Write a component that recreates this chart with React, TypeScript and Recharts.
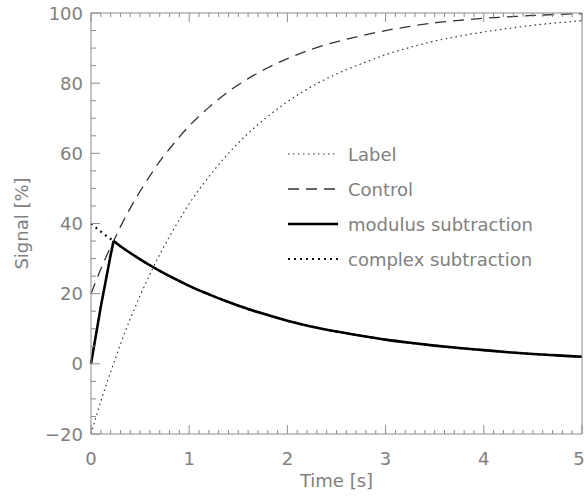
import { LineChart, Line, XAxis, YAxis, Legend } from 'recharts'

// time axis in seconds
const TIME = [
  0, 0.1, 0.2, 0.23, 0.3, 0.4, 0.5, 0.6, 0.7, 0.8, 0.9, 1.0, 1.2, 1.4, 1.6, 1.8, 2.0,
  2.25, 2.5, 2.75, 3.0, 3.25, 3.5, 3.75, 4.0, 4.25, 4.5, 4.75, 5.0,
]

const LABEL = [
  -20, -10.7, -2.3, 0, 5.6, 12.8, 19.4, 25.5, 31.2, 36.3, 41.1, 45.6, 53.3, 60.0, 65.7, 70.5,
  74.7, 79.1, 82.6, 85.5, 88.1, 90.2, 92.0, 93.4, 94.6, 95.6, 96.5, 97.2, 97.8,
]

const CONTROL = [
  20, 27.0, 33.3, 35.0, 39.1, 44.4, 49.2, 53.6, 57.7, 61.3, 64.7, 67.8, 73.1, 77.6, 81.3, 84.4,
  87.0, 89.7, 91.8, 93.5, 95.0, 96.2, 97.2, 97.9, 98.5, 98.9, 99.3, 99.6, 99.8,
]

const MODULUS = [
  0, 16.3, 31.0, 35.0, 33.5, 31.6, 29.8, 28.1, 26.5, 25.0, 23.6, 22.2, 19.8, 17.6, 15.6, 13.9,
  12.3, 10.6, 9.2, 8.0, 6.9, 6.0, 5.2, 4.5, 3.9, 3.3, 2.8, 2.4, 2.0,
]

const COMPLEX = [
  40, 37.7, 35.6, 35.0, 33.5, 31.6, 29.8, 28.1, 26.5, 25.0, 23.6, 22.2, 19.8, 17.6, 15.6, 13.9,
  12.3, 10.6, 9.2, 8.0, 6.9, 6.0, 5.2, 4.5, 3.9, 3.3, 2.8, 2.4, 2.0,
]

const PEAK_TIME = 0.23

const X_MAJOR = [0, 1, 2, 3, 4, 5]
const Y_MAJOR = [-20, 0, 20, 40, 60, 80, 100]

const data = TIME.map((t, i) => ({
  t,
  label: LABEL[i],
  control: CONTROL[i],
  modRise: t <= PEAK_TIME ? MODULUS[i] : null,
  modDecay: t >= PEAK_TIME ? MODULUS[i] : null,
  complex: COMPLEX[i],
}))

// minor ticks every 0.1 s and every 5 %
const xTicks: number[] = []
for (let i = 0; i <= 50; i++) xTicks.push(i / 10)
const yTicks: number[] = []
for (let v = -20; v <= 100; v += 5) yTicks.push(v)

const AXIS = '#8c8c8c'
const TEXT = '#808080'
const FONT = '"DejaVu Sans", sans-serif'

const fmt = (v: number) => (v < 0 ? '\u2212' + Math.abs(v) : String(v))

function BottomTick({ x, y, payload }: any) {
  const major = X_MAJOR.includes(payload.value)
  return (
    <g>
      <line x1={x} x2={x} y1={y} y2={y - (major ? 9 : 4)} stroke={AXIS} />
      {major && (
        <text x={Math.min(x, 579)} y={y + 31} textAnchor="middle" fill={TEXT} fontSize={18} fontFamily={FONT}>
          {payload.value}
        </text>
      )}
    </g>
  )
}

function TopTick({ x, y, payload }: any) {
  const major = X_MAJOR.includes(payload.value)
  return <line x1={x} x2={x} y1={y} y2={y + (major ? 9 : 4)} stroke={AXIS} />
}

function LeftTick({ x, y, payload }: any) {
  const major = Y_MAJOR.includes(payload.value)
  return (
    <g>
      <line x1={x} x2={x + (major ? 9 : 5)} y1={y} y2={y} stroke={AXIS} />
      {major && (
        <text x={x - 8} y={y + 6.5} textAnchor="end" fill={TEXT} fontSize={18} fontFamily={FONT}>
          {fmt(payload.value)}
        </text>
      )}
    </g>
  )
}

function RightTick({ x, y, payload }: any) {
  const major = Y_MAJOR.includes(payload.value)
  return <line x1={x} x2={x - (major ? 9 : 5)} y1={y} y2={y} stroke={AXIS} />
}

const LEGEND_ROWS = [
  { name: 'Label', stroke: '#333', width: 1.2, dash: '1.5 3.5' },
  { name: 'Control', stroke: '#333', width: 1.3, dash: '11 7' },
  { name: 'modulus subtraction', stroke: '#000', width: 2.6, dash: undefined },
  { name: 'complex subtraction', stroke: '#111', width: 2.2, dash: '2 4' },
]

function LegendBox() {
  return (
    <div style={{ fontFamily: FONT, fontSize: 18, color: TEXT }}>
      {LEGEND_ROWS.map((r) => (
        <div key={r.name} style={{ display: 'flex', alignItems: 'center', height: 35 }}>
          <svg width={52} height={10}>
            <line x1={1} x2={51} y1={5} y2={5} stroke={r.stroke} strokeWidth={r.width} strokeDasharray={r.dash} />
          </svg>
          <span style={{ marginLeft: 9, whiteSpace: 'nowrap' }}>{r.name}</span>
        </div>
      ))}
    </div>
  )
}

export default function App() {
  return (
    <div style={{ position: 'absolute', left: 0, top: 0, background: '#fff' }}>
      <LineChart width={586} height={496} data={data} margin={{ top: 12, right: 3, bottom: 61, left: 0 }}>
        <XAxis
          dataKey="t"
          type="number"
          domain={[0, 5]}
          ticks={xTicks}
          interval={0}
          height={1}
          tickSize={0}
          tickMargin={0}
          stroke={AXIS}
          tick={<BottomTick />}
          label={{ value: 'Time [s]', position: 'insideTop', offset: 40, fill: TEXT, fontSize: 18, fontFamily: FONT }}
        />
        <XAxis
          xAxisId="top"
          orientation="top"
          dataKey="t"
          type="number"
          domain={[0, 5]}
          ticks={xTicks}
          interval={0}
          height={1}
          tickSize={0}
          tickMargin={0}
          stroke={AXIS}
          tick={<TopTick />}
        />
        <YAxis
          type="number"
          domain={[-20, 100]}
          ticks={yTicks}
          interval={0}
          width={91}
          tickSize={0}
          tickMargin={0}
          stroke={AXIS}
          tick={<LeftTick />}
          label={{
            value: 'Signal [%]',
            angle: -90,
            position: 'insideLeft',
            offset: 22,
            fill: TEXT,
            fontSize: 18,
            fontFamily: FONT,
            style: { textAnchor: 'middle' },
          }}
        />
        <YAxis
          yAxisId="right"
          orientation="right"
          type="number"
          domain={[-20, 100]}
          ticks={yTicks}
          interval={0}
          width={1}
          tickSize={0}
          tickMargin={0}
          stroke={AXIS}
          tick={<RightTick />}
        />
        <Line type="monotone" dataKey="label" stroke="#333" strokeWidth={1.2} strokeDasharray="1.5 3.5" dot={false} isAnimationActive={false} />
        <Line type="monotone" dataKey="control" stroke="#333" strokeWidth={1.3} strokeDasharray="11 7" dot={false} isAnimationActive={false} />
        <Line type="monotone" dataKey="complex" stroke="#111" strokeWidth={2.2} strokeDasharray="2 4" dot={false} isAnimationActive={false} />
        <Line type="linear" dataKey="modRise" stroke="#000" strokeWidth={2.6} dot={false} isAnimationActive={false} />
        <Line type="monotone" dataKey="modDecay" stroke="#000" strokeWidth={2.6} dot={false} isAnimationActive={false} />
        <Legend
          layout="vertical"
          align="center"
          verticalAlign="middle"
          content={<LegendBox />}
          wrapperStyle={{ left: 287, top: 136.5, width: 290 }}
        />
      </LineChart>
    </div>
  )
}
